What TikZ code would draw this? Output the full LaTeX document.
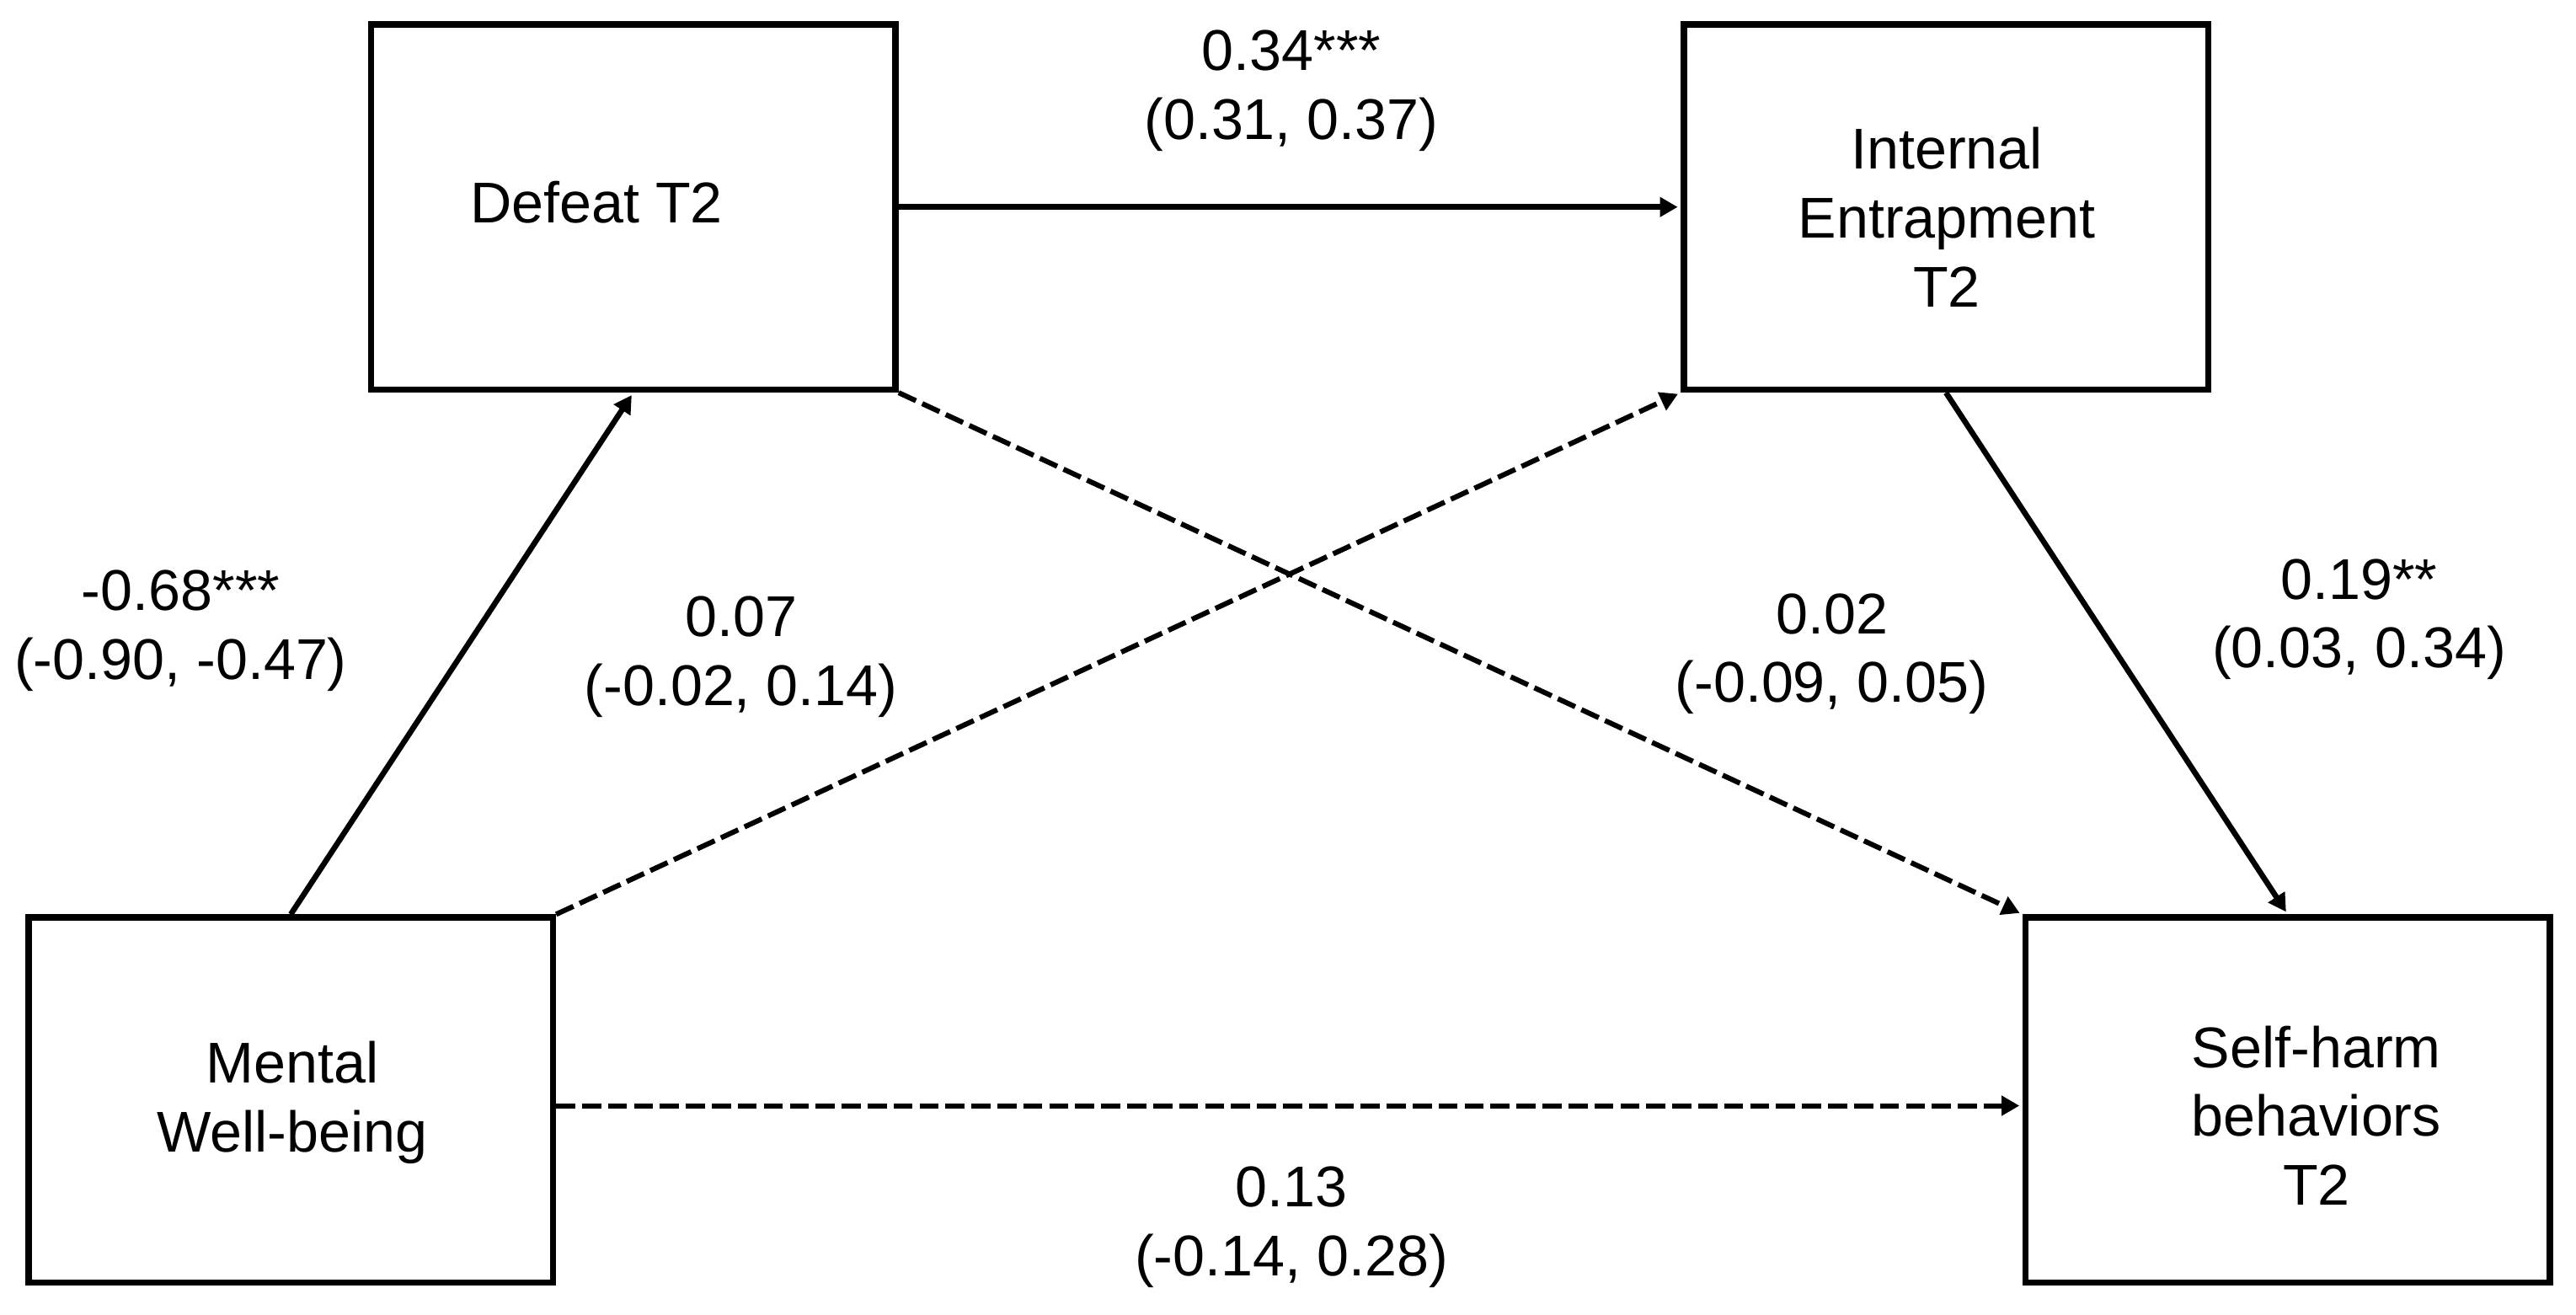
\documentclass[tikz,border=0pt]{standalone}
\usepackage{fontspec}
\setmainfont{Liberation Sans}
\usetikzlibrary{arrows.meta}
\begin{document}
\begin{tikzpicture}[x=0.5pt,y=-0.5pt,
  box/.style={draw, line width=1.9pt, minimum width=159.6pt, minimum height=111.1pt, inner sep=0pt},
  txt/.style={align=center, font=\fontsize{17.5}{21}\selectfont, inner sep=0pt},
  arr/.style={line width=1.7pt, shorten >=0.9pt, -{Triangle[length=5.4pt,width=5.8pt]}},
  dsh/.style={arr, line width=1.55pt, dash pattern=on 5.8pt off 2.1pt}]
\useasboundingbox (0,0) rectangle (1568,800);
% boxes
\node[box] (def) at (385.5,126) {};
\node[box] (int) at (1184.5,126) {};
\node[box] (mwb) at (177,669.5) {};
\node[box] (sh)  at (1392.5,669.5) {};
% box texts
\node[txt] (tdef) at (363,123) {Defeat T2};
\node[txt] (tint) at (1185,132) {Internal\\Entrapment\\T2};
\node[txt] (tmwb) at (178,671) {Mental\\Well-being};
\node[txt] (tsh)  at (1410,679) {Self-harm\\behaviors\\T2};
% connectors
\draw[arr] (def.east) -- (int.west);
\draw[arr] (mwb.north) -- (def.south);
\draw[dsh] (mwb.north east) -- (int.south west);
\draw[dsh] (def.south east) -- (sh.north west);
\draw[arr] (int.south) -- (sh.north);
\draw[dsh] ([yshift=-1.75pt]mwb.east) -- ([yshift=-1.75pt]sh.west);
% labels
\node[txt] (l1) at (786,55) {0.34***\\(0.31, 0.37)};
\node[txt] (l2) at (110,384) {-0.68***\\(-0.90, -0.47)};
\node[txt] (l3) at (451,400) {0.07\\(-0.02, 0.14)};
\node[txt] (l4) at (1115,398) {0.02\\(-0.09, 0.05)};
\node[txt] (l5) at (1436,377) {0.19**\\(0.03, 0.34)};
\node[txt] (l6) at (786,747) {0.13\\(-0.14, 0.28)};
\end{tikzpicture}
\end{document}
